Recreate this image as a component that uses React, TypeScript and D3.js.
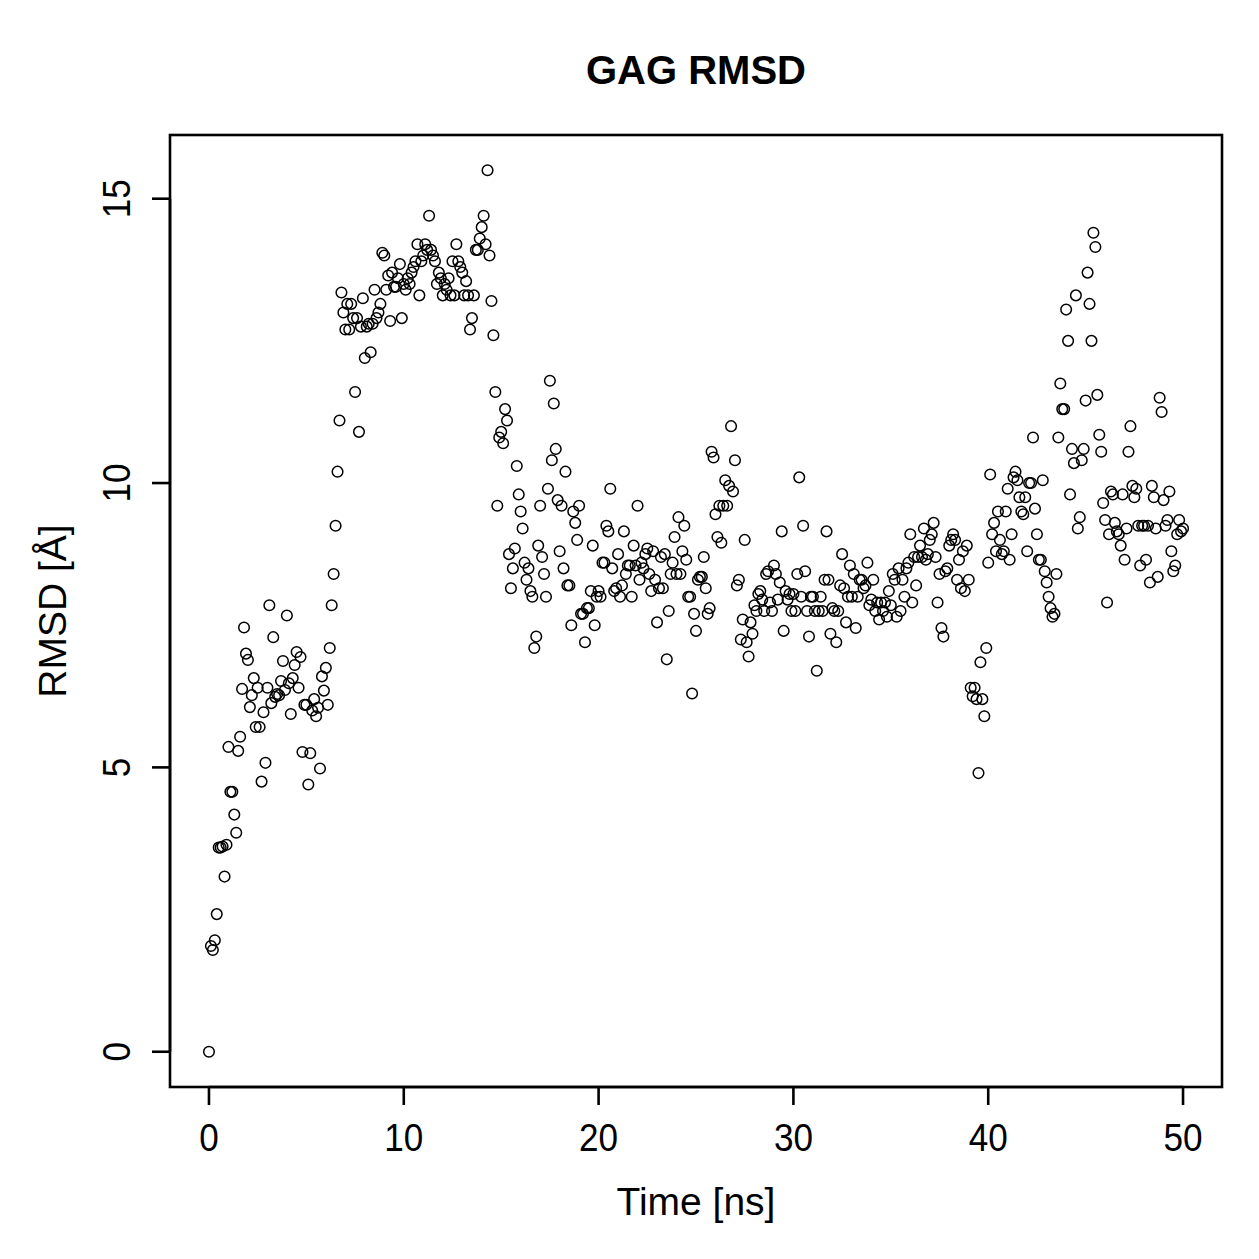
import React from 'react';
import * as d3 from 'd3';

// RMSD values, one per 0.1 ns frame, split in 5 ns chunks
const rmsd0to5 = [0, 1.86, 1.79, 1.96, 2.42, 3.59, 3.59, 3.61, 3.08, 3.64, 5.36, 4.57, 4.57, 4.17, 3.85, 5.29, 5.54, 6.38, 7.46, 7.0, 6.89, 6.06, 6.27, 6.57, 5.71, 6.4, 5.71, 4.75, 5.97, 5.08, 6.4, 7.85, 6.13, 7.29, 6.24, 6.29, 6.27, 6.52, 6.87, 6.36, 7.67, 6.48, 5.94, 6.57, 6.8, 7.03, 6.4, 6.94, 5.27, 6.1];
const rmsd5to10 = [6.1, 4.7, 5.25, 6.0, 6.2, 5.9, 6.05, 4.98, 6.6, 6.35, 6.75, 6.1, 7.1, 7.85, 8.4, 9.25, 10.2, 11.1, 13.35, 13.0, 12.7, 13.15, 12.7, 13.15, 12.9, 11.6, 12.9, 10.9, 12.75, 13.25, 12.2, 12.75, 12.8, 12.3, 12.8, 13.4, 12.9, 13.0, 13.15, 14.05, 14.0, 13.4, 13.65, 12.85, 13.7, 13.45, 13.45, 13.6, 13.85, 12.9];
const rmsd10to15 = [13.5, 13.4, 13.6, 13.5, 13.7, 13.8, 13.9, 14.2, 13.3, 13.9, 14.0, 14.2, 14.1, 14.7, 14.1, 14.0, 13.9, 13.5, 13.7, 13.6, 13.3, 13.5, 13.4, 13.6, 13.3, 13.9, 13.3, 14.2, 13.9, 13.8, 13.7, 13.3, 13.55, 13.3, 12.7, 12.9, 13.3, 14.1, 14.1, 14.3, 14.5, 14.7, 14.2, 15.5, 14.0, 13.2, 12.6, 11.6, 9.6, 10.8];
const rmsd15to20 = [10.9, 10.7, 11.3, 11.1, 8.75, 8.15, 8.5, 8.85, 10.3, 9.8, 9.5, 9.2, 8.6, 8.3, 8.5, 8.1, 8.0, 7.1, 7.3, 8.9, 9.6, 8.7, 8.4, 8.0, 9.9, 11.8, 10.4, 11.4, 10.6, 9.7, 8.8, 9.6, 8.5, 10.2, 8.2, 8.2, 7.5, 9.5, 9.3, 9.0, 9.6, 7.7, 7.7, 7.2, 7.8, 7.8, 8.1, 8.9, 7.5, 8.0];
const rmsd20to25 = [8.1, 8.0, 8.6, 8.6, 9.25, 9.15, 9.9, 8.5, 8.1, 8.15, 8.75, 8.0, 8.2, 9.15, 8.4, 8.55, 8.55, 8.0, 8.9, 8.55, 9.6, 8.3, 8.6, 8.5, 8.75, 8.85, 8.4, 8.1, 8.8, 8.3, 7.55, 8.15, 8.7, 8.15, 8.75, 6.9, 7.75, 8.4, 8.6, 9.05, 8.4, 9.4, 8.4, 8.8, 9.25, 8.65, 8.0, 8.0, 6.3, 7.7];
const rmsd25to30 = [7.4, 8.3, 8.35, 8.35, 8.7, 8.15, 7.7, 7.8, 10.55, 10.45, 9.45, 9.05, 9.6, 8.95, 9.6, 10.05, 9.6, 9.95, 11.0, 9.85, 10.4, 8.2, 8.3, 7.25, 7.6, 9.0, 7.2, 6.95, 7.55, 7.35, 7.85, 7.75, 8.05, 8.1, 7.95, 7.75, 8.4, 8.45, 7.9, 7.75, 8.55, 8.4, 7.95, 8.25, 9.15, 7.4, 8.1, 7.95, 8.05, 7.75];
const rmsd30to35 = [8.05, 7.75, 8.4, 10.1, 8.0, 9.25, 8.45, 7.75, 7.3, 8.0, 8.0, 7.75, 6.7, 7.75, 8.0, 7.75, 8.3, 9.15, 8.3, 7.35, 7.8, 7.75, 7.2, 7.75, 8.2, 8.75, 8.15, 7.55, 8.0, 8.55, 8.0, 8.4, 7.45, 8.0, 8.3, 8.3, 8.15, 8.2, 8.6, 7.85, 7.95, 8.3, 7.75, 7.9, 7.6, 7.9, 7.75, 7.9, 7.65, 8.1];
const rmsd35to40 = [7.85, 8.4, 8.3, 7.65, 8.5, 7.75, 8.3, 8.0, 8.5, 8.6, 9.1, 7.9, 8.7, 8.2, 8.7, 8.9, 8.7, 9.2, 8.65, 8.75, 9.0, 9.1, 9.3, 8.7, 7.9, 8.4, 7.45, 7.3, 8.45, 8.5, 8.9, 9.0, 9.1, 9.0, 8.3, 8.65, 8.15, 8.8, 8.1, 8.9, 8.3, 6.4, 6.25, 6.4, 6.2, 4.9, 6.85, 6.2, 5.9, 7.1];
const rmsd40to45 = [8.6, 10.15, 9.1, 9.3, 8.8, 9.5, 9.0, 8.75, 8.8, 9.5, 9.9, 8.65, 9.1, 10.1, 10.2, 10.05, 9.75, 9.5, 9.45, 9.75, 8.8, 10.0, 10.0, 10.8, 9.55, 9.1, 8.65, 8.65, 10.05, 8.45, 8.25, 8.0, 7.8, 7.65, 7.7, 8.4, 10.8, 11.75, 11.3, 11.3, 13.05, 12.5, 9.8, 10.6, 10.35, 13.3, 9.2, 9.4, 10.4, 10.6];
const rmsd45to50 = [11.45, 13.7, 13.15, 12.5, 14.4, 14.15, 11.55, 10.85, 10.55, 9.65, 9.35, 7.9, 9.1, 9.85, 9.8, 9.3, 9.15, 9.1, 8.9, 9.8, 8.65, 9.2, 10.55, 11.0, 9.95, 9.75, 9.9, 9.25, 8.55, 9.25, 9.25, 8.65, 9.25, 8.25, 9.95, 9.75, 9.2, 8.35, 11.5, 11.25, 9.7, 9.25, 9.35, 9.85, 8.8, 8.45, 8.55, 9.1, 9.35, 9.15, 9.2];

const xTicks = [0, 10, 20, 30, 40, 50];
const yTicks = [0, 5, 10, 15];

const frameStep = 0.1; // ns per frame

const App: React.FC = () => {
  const rmsd = [
    ...rmsd0to5, ...rmsd5to10, ...rmsd10to15, ...rmsd15to20, ...rmsd20to25,
    ...rmsd25to30, ...rmsd30to35, ...rmsd35to40, ...rmsd40to45, ...rmsd45to50,
  ];
  const data = rmsd.map((v, i) => ({ t: i * frameStep, v }));

  const width = 1259;
  const height = 1259;
  const left = 170, right = 1222, top = 135, bottom = 1087;

  // R style 4% padding on the data range
  const tMax = d3.max(data, d => d.t) ?? 50;
  const vMax = d3.max(data, d => d.v) ?? 15;
  const x = d3.scaleLinear()
    .domain([-0.04 * tMax, tMax * 1.04])
    .range([left, right]);
  const y = d3.scaleLinear()
    .domain([-0.04 * vMax, vMax * 1.04])
    .range([bottom, top]);

  const font = '"Liberation Sans", Arial, Helvetica, sans-serif';
  const fs = 39;

  return (
    <svg width={width} height={height} style={{ display: 'block', margin: -8 }} fontFamily={font}>
      <rect x={0} y={0} width={width} height={height} fill="#fff" />
      <text x={(left + right) / 2} y={84} textAnchor="middle" fontSize={40} fontWeight="bold">GAG RMSD</text>

      {data.map((d, i) => (
        <circle key={i} cx={x(d.t)} cy={y(d.v)} r={5.3} fill="none" stroke="#000" strokeWidth={1.5} />
      ))}

      <rect x={left} y={top} width={right - left} height={bottom - top} fill="none" stroke="#000" strokeWidth={2.6} />

      {/* x axis */}
      <line x1={x(xTicks[0])} x2={x(xTicks[xTicks.length - 1])} y1={bottom} y2={bottom} stroke="#000" strokeWidth={2.6} />
      {xTicks.map(t => (
        <g key={t}>
          <line x1={x(t)} x2={x(t)} y1={bottom} y2={bottom + 18} stroke="#000" strokeWidth={2.6} />
          <text x={x(t)} y={1151} textAnchor="middle" fontSize={fs} transform={`translate(${x(t)},0) scale(0.9,1) translate(${-x(t)},0)`}>{t}</text>
        </g>
      ))}
      <text x={(left + right) / 2} y={1215} textAnchor="middle" fontSize={fs}>Time [ns]</text>

      {/* y axis */}
      <line x1={left} x2={left} y1={y(yTicks[0])} y2={y(yTicks[yTicks.length - 1])} stroke="#000" strokeWidth={2.6} />
      {yTicks.map(v => (
        <g key={v}>
          <line x1={left - 18} x2={left} y1={y(v)} y2={y(v)} stroke="#000" strokeWidth={2.6} />
          <text transform={`translate(130,${y(v)}) rotate(-90) scale(0.9,1)`} textAnchor="middle" fontSize={fs}>{v}</text>
        </g>
      ))}
      <text transform={`translate(66,${(top + bottom) / 2}) rotate(-90)`} textAnchor="middle" fontSize={fs}>RMSD [Å]</text>
    </svg>
  );
};

export default App;
